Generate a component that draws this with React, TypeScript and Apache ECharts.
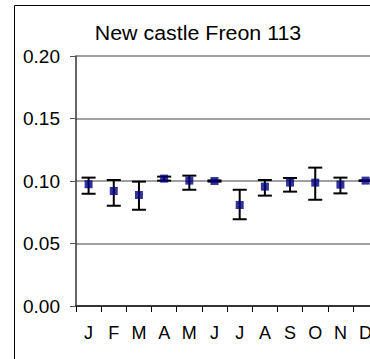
import React, { useEffect, useRef } from "react";
import * as echarts from "echarts";

const months = ["J", "F", "M", "A", "M", "J", "J", "A", "S", "O", "N", "D"];
const meanValues = [0.0974, 0.092, 0.0888, 0.1019, 0.1003, 0.1, 0.0808, 0.0955, 0.0987, 0.0987, 0.0971, 0.1003];
const upperValues = [0.1027, 0.1008, 0.0995, 0.1035, 0.1043, 0.1005, 0.093, 0.1008, 0.1024, 0.1107, 0.1027, 0.1006];
const lowerValues = [0.0898, 0.0802, 0.077, 0.1003, 0.093, 0.0995, 0.0694, 0.0883, 0.0915, 0.085, 0.0901, 0.1];
const yTicks = { min: 0, max: 0.2, interval: 0.05 };
const titleText = "New castle Freon 113";

const FONT = '"Liberation Sans", Arial, sans-serif';

export default function App() {
  const ref = useRef<HTMLDivElement>(null);
  useEffect(() => {
    if (!ref.current) return;
    const chart = echarts.init(ref.current, null, { renderer: "svg" });
    const errData = months.map((_, i) => [i, lowerValues[i], upperValues[i]]);
    chart.setOption({
      animation: false,
      backgroundColor: "#ffffff",
      textStyle: { fontFamily: FONT },
      grid: { left: 76, top: 56, bottom: 53, width: 302.2, containLabel: false },
      graphic: [
        {
          type: "rect",
          shape: { x: 14.5, y: 5.5, width: 600, height: 600 },
          style: { fill: "none", stroke: "#000", lineWidth: 1 },
          silent: true,
          z: -1,
        },
        {
          type: "text",
          x: 198,
          y: 32.5,
          scaleX: 1.07,
          style: {
            text: titleText,
            x: 0,
            y: 0,
            align: "center",
            verticalAlign: "middle",
            font: `20px ${FONT}`,
            fill: "#000",
          },
        },
      ],
      xAxis: {
        type: "category",
        data: months,
        boundaryGap: true,
        axisLine: { lineStyle: { color: "#333", width: 2 } },
        axisTick: { show: true, length: 6, lineStyle: { color: "#000", width: 1 } },
        axisLabel: { interval: 0, color: "#000", fontSize: 18, margin: 18, fontFamily: FONT },
        splitLine: { show: false },
      },
      yAxis: {
        type: "value",
        min: yTicks.min,
        max: yTicks.max,
        interval: yTicks.interval,
        axisLine: { show: true, lineStyle: { color: "#333", width: 1.5 } },
        axisTick: { show: true, length: 6, lineStyle: { color: "#555", width: 1 } },
        axisLabel: {
          color: "#000",
          fontSize: 19,
          margin: 16,
          fontFamily: FONT,
          formatter: (v: number) => v.toFixed(2),
        },
        splitLine: { show: true, lineStyle: { color: "#808080", width: 1.5 } },
      },
      series: [
        {
          type: "custom",
          data: errData,
          z: 2,
          renderItem: (params: any, api: any) => {
            const x = api.value(0);
            const lo = api.coord([x, api.value(1)]);
            const hi = api.coord([x, api.value(2)]);
            const hw = 7;
            const st = { stroke: "#000", lineWidth: 2 };
            return {
              type: "group",
              children: [
                { type: "line", shape: { x1: lo[0], y1: lo[1], x2: hi[0], y2: hi[1] }, style: st },
                { type: "line", shape: { x1: hi[0] - hw, y1: hi[1], x2: hi[0] + hw, y2: hi[1] }, style: st },
                { type: "line", shape: { x1: lo[0] - hw, y1: lo[1], x2: lo[0] + hw, y2: lo[1] }, style: st },
              ],
            };
          },
        },
        {
          type: "scatter",
          data: meanValues,
          symbol: "rect",
          symbolSize: 8,
          z: 3,
          itemStyle: { color: "#000080" },
        },
      ],
    });
    return () => chart.dispose();
  }, []);
  return (
    <div
      ref={ref}
      style={{ position: "fixed", left: 0, top: 0, width: 380, height: 359 }}
    />
  );
}
